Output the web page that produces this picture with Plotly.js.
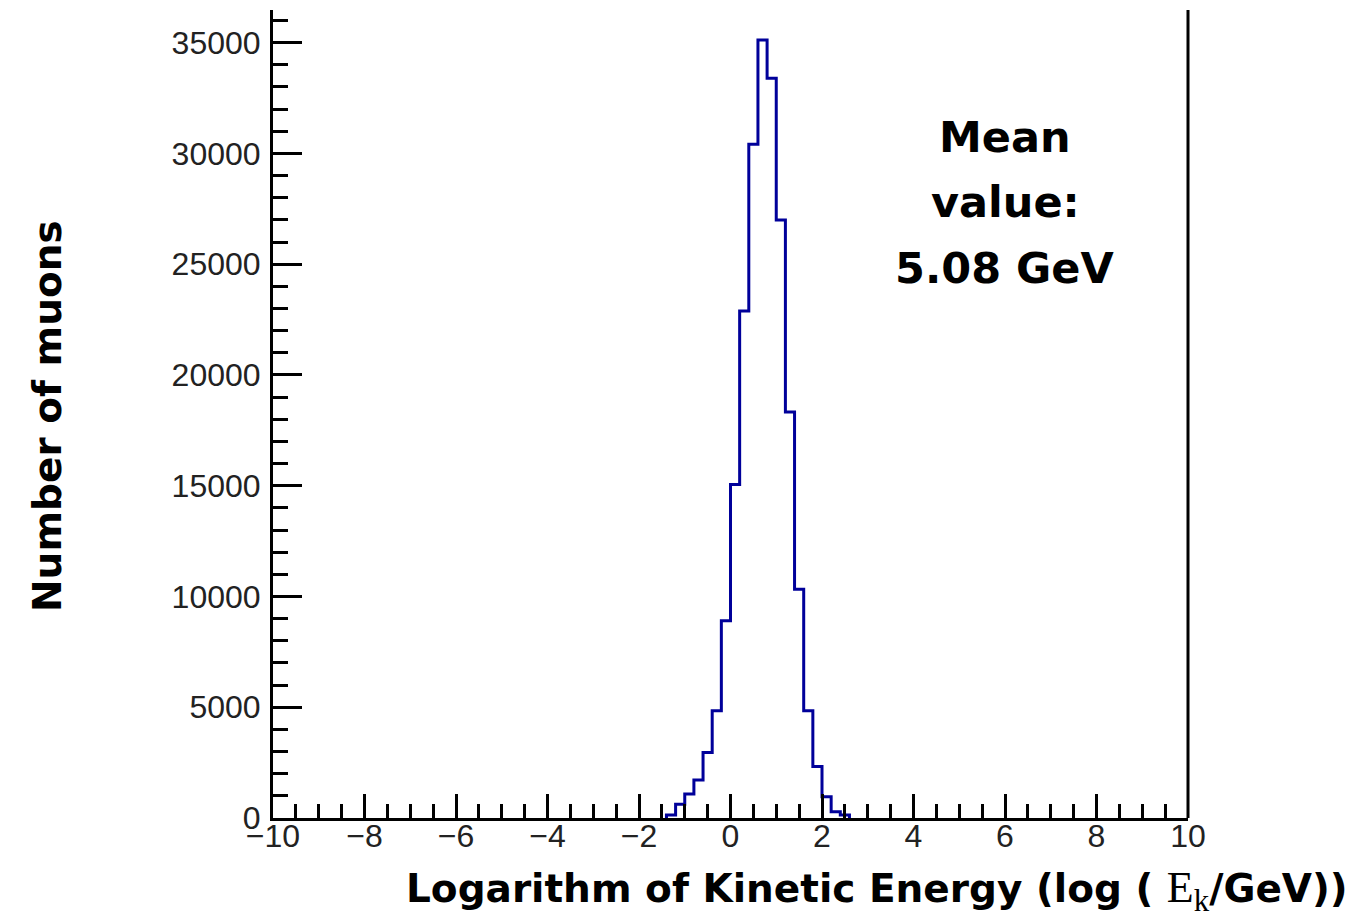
<!DOCTYPE html>
<html>
<head>
<meta charset="utf-8">
<script src="https://cdn.plot.ly/plotly-3.0.1.min.js"></script>
<style>
  html, body { margin: 0; padding: 0; background: #ffffff; }
  #chart { width: 1365px; height: 918px; }
</style>
</head>
<body>
<div id="chart"></div>
<script>
// Histogram bin left edges (log10(Ek/GeV)), bin width 0.2
const binEdges = [-1.4, -1.2, -1.0, -0.8, -0.6, -0.4, -0.2, 0.0, 0.2, 0.4,
                  0.6, 0.8, 1.0, 1.2, 1.4, 1.6, 1.8, 2.0, 2.2, 2.4, 2.6];
// Counts per bin (number of muons)
const counts = [140, 620, 1080, 1720, 2960, 4840, 8900, 15060, 22890, 30410,
                35120, 33390, 26990, 18330, 10330, 4840, 2320, 960, 280, 140];

const xTitleText = "Logarithm of Kinetic Energy (log ( <span style='font-family:\"Liberation Serif\";font-weight:normal;font-size:44px'>E<sub>k</sub></span>/GeV))";
const yTitleText = "Number of muons";
const meanLines = ["Mean", "value:", "5.08 GeV"];

// Build step outline: start at 0 at first edge, rise through each bin, end at 0
const xs = [binEdges[0]];
const ys = [0];
for (let i = 0; i < counts.length; i++) {
  xs.push(binEdges[i]);
  ys.push(counts[i]);
}
xs.push(binEdges[binEdges.length - 1]);
ys.push(counts[counts.length - 1]);
xs.push(binEdges[binEdges.length - 1]);
ys.push(0);

const trace = {
  type: 'scatter',
  mode: 'lines',
  x: xs,
  y: ys,
  line: { shape: 'hv', color: '#00009a', width: 3 },
  hoverinfo: 'skip'
};

const tickFont = { family: 'Liberation Sans, Arial, sans-serif', size: 32, color: '#222222' };
const boldFont = 'DejaVu Sans, sans-serif';

const meanY = [0.8428, 0.7624, 0.6807];
const annotations = meanLines.map((t, i) => ({
  text: t, xref: 'paper', yref: 'paper', x: 0.8, y: meanY[i],
  xanchor: 'center', yanchor: 'middle', showarrow: false,
  font: { family: boldFont, size: 43, color: '#000000', weight: 700 }
}));
annotations.push({
  text: xTitleText, xref: 'paper', yref: 'paper', x: 1.177, y: -0.09,
  xanchor: 'right', yanchor: 'middle', showarrow: false,
  font: { family: boldFont, size: 39, color: '#000000', weight: 700 }
});
annotations.push({
  text: yTitleText, xref: 'paper', yref: 'paper', x: -0.247, y: 0.4975,
  xanchor: 'center', yanchor: 'middle', showarrow: false, textangle: -90,
  font: { family: boldFont, size: 39, color: '#000000', weight: 700 }
});

const layout = {
  width: 1365, height: 918,
  margin: { l: 273, r: 177, t: 10, b: 100, pad: 0 },
  paper_bgcolor: '#ffffff', plot_bgcolor: '#ffffff',
  showlegend: false,
  xaxis: {
    range: [-10, 10], autorange: false,
    showline: true, linewidth: 3, linecolor: '#000000',
    showgrid: false, zeroline: false,
    ticks: 'inside', ticklen: 24, tickwidth: 3, tickcolor: '#000000',
    tick0: -10, dtick: 2,
    minor: { ticks: 'inside', ticklen: 14, tickwidth: 3, tickcolor: '#000000', dtick: 0.5, showgrid: false },
    tickfont: tickFont, ticklabelstandoff: -12
  },
  yaxis: {
    range: [0, 36475], autorange: false,
    showline: true, linewidth: 3, linecolor: '#000000',
    showgrid: false, zeroline: false,
    ticks: 'inside', ticklen: 29, tickwidth: 3, tickcolor: '#000000',
    tick0: 0, dtick: 5000, tickformat: 'd',
    minor: { ticks: 'inside', ticklen: 15, tickwidth: 3, tickcolor: '#000000', dtick: 1000, showgrid: false },
    tickfont: tickFont, ticklabelstandoff: 3
  },
  shapes: [{
    type: 'line', xref: 'paper', yref: 'paper', x0: 1, x1: 1, y0: 0, y1: 1,
    line: { color: '#000000', width: 3 }
  }],
  annotations: annotations
};

Plotly.newPlot('chart', [trace], layout, { displayModeBar: false, staticPlot: true });
</script>
</body>
</html>
